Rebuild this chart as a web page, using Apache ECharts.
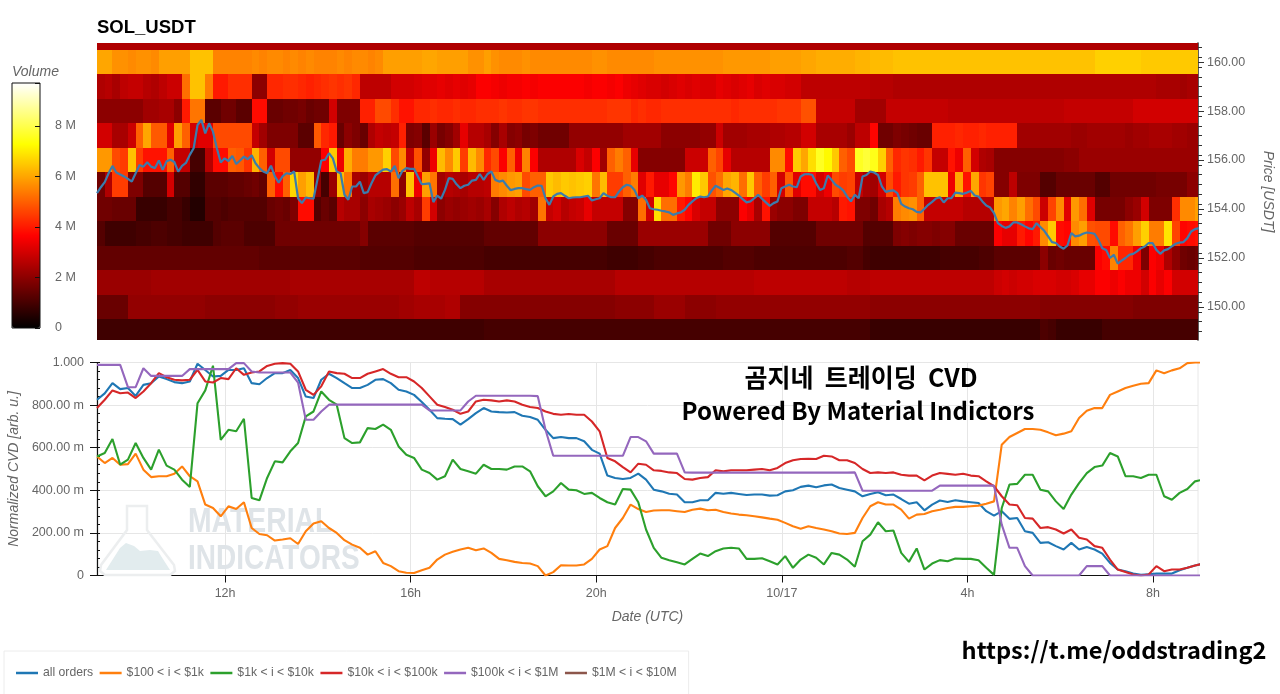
<!DOCTYPE html>
<html lang="en">
<head>
<meta charset="UTF-8">
<title>SOL_USDT</title>
<script src="https://cdn.jsdelivr.net/npm/echarts@6/dist/echarts.min.js"></script>
<style>
    *{margin:0;padding:0}
    body,html{width:100%;height:100%;overflow:hidden;background:#fff}
    .box{width:1280px;height:694px}
</style>
</head>
<body>
<div class="box"></div>
<script>
// time axis, hours since 10/16 00:00, one heatmap column = 10 min
const startHour = 9.24;
const endHour = 32.97;
const colHours = 1 / 6;
const timeTicks = [12, 16, 20, 24, 28, 32];

// price ticks
const priceMin = 148.65;
const priceMax = 160.78;
const priceTicks = [150, 152, 154, 156, 158, 160];
const priceMinorTicks = [149, 149.4, 149.8, 150.2, 150.6, 151, 151.4, 151.8, 152.2, 152.6, 153, 153.4, 153.8, 154.2, 154.6, 155, 155.4, 155.8, 156.2, 156.6, 157, 157.4, 157.8, 158.2, 158.6, 159, 159.4, 159.8, 160.2, 160.6];

// volume per price bin, unit 0.1 M, one list per bin
const binPrices = [161, 160, 159, 158, 157, 156, 155, 154, 153, 152, 151, 150, 149];
const vol161 = [25,25,25,25,25,25,25,25,25,25,25,25,25,25,25,25,25,25,25,25,25,25,25,25,25,25,25,25,25,25,25,25,25,25,25,25,25,25,25,25,25,25,25,25,25,25,25,25,25,25,
    25,25,25,25,25,25,25,25,25,25,25,25,25,25,25,25,25,25,25,25,25,25,25,25,25,25,25,25,25,25,25,25,25,25,25,25,25,25,25,25,25,25,25,25,25,25,25,25,25,25,
    25,25,25,25,25,25,25,25,25,25,25,25,25,25,25,25,25,25,25,25,25,25,25,25,25,25,25,25,25,25,25,25,25,25,25,25,25,25,25,25,25,25,25];
const vol160 = [60,60,57,57,56,57,57,56,59,59, 59,59,64,64,64,55,55,55,55,55, 56,55,56,56,55,56,55,56,55,55, 55,56,55,56,56,55,56,59,59,59, 59,59,60,60,59,59,59,59,57,57,
    59,57,56,56,56,57,56,56,56,56, 56,56,56,56,57,57,56,56,56,56, 56,56,57,57,57,57,57,57,57,57, 57,58,58,58,58,58,58,59,59,59, 59,60,60,61,61,61,61,61,62,62,
    63,63,63,64,64,64,64,64,64,64, 64,64,64,64,64,64,64,64,64,64, 64,64,64,64,64,64,64,64,64,66, 66,66,66,66,66,65,65,65,65,65,65,65,65];
const vol159 = [25,26,24,27,28,28,26,25,27,29, 29,52,64,64,54,40,40,43,43,43, 20,20,42,42,43,43,42,41,42,43, 44,43,44,42,27,27,27,27,30,30, 30,31,32,32,33,32,33,32,33,36,
    36,35,34,35,35,36,35,36,36,36, 36,36,36,35,36,36,35,36,34,33, 32,31,31,30,31,32,31,32,31,31, 33,32,31,32,33,31,32,31,31,30, 30,27,27,27,27,27,27,27,27,27,
    26,26,26,25,25,25,25,25,25,25, 25,25,25,25,25,25,25,25,25,25, 25,25,25,25,25,25,25,25,25,25, 25,25,25,25,25,25,25,24,24,24,23,24,24];
const vol158 = [20,20,20,20,20,20,23,23,24,24, 20,40,53,53,13,13,16,16,13,13, 38,38,15,15,16,16,17,15,16,16, 30,18,18,18,41,41,47,47,43,39, 39,42,42,43,42,42,43,42,42,43,
    43,43,44,43,43,44,44,43,43,43, 43,43,43,43,43,43,44,44,44,42, 43,42,42,43,43,43,43,43,43,43, 43,43,42,43,43,43,43,43,44,44, 44,48,48,28,28,28,28,28,23,23,
    23,23,28,28,28,28,28,28,28,28, 27,27,27,27,27,27,27,27,27,27, 27,27,27,27,27,28,28,28,28,28, 28,28,28,28,30,30,30,30,30,30,30,30,30];
const vol157 = [30,30,24,24,29,50,60,49,49,32, 59,50,30,32,32,47,47,47,47,47, 28,23,18,18,18,18,13,13,49,42, 40,15,20,18,15,25,28,27,28,41, 18,19,13,22,17,19,23,33,26,26,
    24,19,24,19,20,17,18,16,16,16, 16,21,21,21,21,21,21,21,23,23, 23,23,23,20,20,20,20,20,21,21, 29,23,23,23,24,24,24,25,25,26, 26,30,30,24,24,24,24,22,27,27,
    37,16,16,18,17,16,15,15,41,41, 41,42,41,41,42,41,41,41,41,23, 23,23,23,23,23,23,22,22,23,23, 23,23,23,22,23,23,24,24,24,23,23,22,22];
const vol156 = [58,58,47,45,64,45,39,39,39,50, 28,28,10,10,26,38,38,50,49,44, 62,50,30,47,47,21,21,21,21,36, 65,34,61,54,54,58,58,66,47,56, 28,48,21,34,63,56,65,45,63,56,
    42,47,36,50,34,55,36,25,25,25, 25,25,31,28,36,23,50,54,50,33, 19,19,19,19,19,19,29,29,29,50, 46,33,26,26,26,26,26,56,56,38, 65,60,68,76,72,65,50,47,76,78,
    75,66,50,42,44,43,40,44,28,28, 39,34,50,30,25,24,19,19,19,19, 19,19,19,19,19,20,20,22,22,22, 22,22,22,22,22,22,22,22,22,22,22,22,22];
const vol155 = [16,25,45,45,18,18,12,12,12,30, 12,12,7,7,13,13,13,14,14,15, 16,14,50,38,50,67,59,63,21,10, 22,63,53,24,22,26,26,26,52,20, 64,34,59,53,23,26,25,24,26,26,
    27,54,56,58,59,47,50,50,65,63, 65,64,65,66,53,63,45,45,50,54, 32,40,33,33,37,58,54,70,65,48, 52,60,62,52,65,50,45,50,30,49, 32,38,38,30,34,47,45,46,28,24,
    23,30,47,40,44,45,50,64,64,64, 34,60,39,60,44,46,19,19,27,18, 18,18,12,12,15,15,15,15,15,12, 12,16,16,16,16,16,16,17,17,17,17,20,20];
const vol154 = [16,16,15,15,15,8,8,8,8,10, 10,8,5,5,12,12,11,12,12,12, 12,12,15,16,15,18,38,38,12,15, 13,26,24,24,20,24,23,22,20,22, 27,24,45,30,20,22,21,22,23,22,
    24,19,25,27,25,26,23,53,28,30, 26,28,29,33,28,28,28,28,19,19, 52,30,68,52,52,40,37,31,28,28, 20,20,20,36,33,24,39,22,20,20, 18,18,28,28,28,26,40,39,18,18,
    16,24,26,54,56,57,50,28,28,28, 28,28,26,26,26,26,58,60,55,59, 52,47,29,46,56,32,58,52,32,17, 17,17,17,20,22,30,18,18,18,43,56,56,59];
const vol153 = [12,9,9,9,9,10,10,11,11,10, 10,9,9,9,9,12,13,13,13,11, 11,11,11,16,16,16,16,16,16,16, 16,16,16,16,19,13,13,13,13,13, 13,12,12,12,12,12,12,12,12,12,
    14,14,14,14,14,14,14,20,20,20, 20,20,20,20,20,20,15,15,15,15, 22,22,22,22,22,22,22,22,22,16, 16,16,20,20,20,20,20,12,12,12, 12,12,12,16,16,16,16,16,16,12,
    12,12,12,18,19,18,19,19,18,19, 19,15,15,15,15,15,36,33,33,40, 37,40,56,65,38,37,56,59,48,47, 47,38,50,53,59,66,54,54,69,46,37,38,39];
const vol152 = [14,14,14,14,14,14,14,14,14,14, 14,14,14,14,14,14,14,14,14,14, 14,13,13,13,13,13,13,13,13,13, 13,13,13,13,12,12,12,12,12,12, 12,11,11,11,11,11,11,11,11,11,
    10,10,10,10,10,10,10,10,10,10, 10,10,10,10,10,10,9,9,9,9, 10,10,11,11,11,11,11,11,11,11, 11,12,12,12,12,11,11,11,11,11, 11,11,11,11,11,11,11,12,12,10,
    9,9,9,9,9,9,9,9,9,10, 10,10,10,10,11,11,13,13,13,13, 13,13,20,15,16,15,15,15,15,36, 38,55,42,42,34,18,36,34,25,20,16,15,16];
const vol151 = [22,22,22,22,22,22,22,23,23,23, 23,23,23,23,23,23,23,23,23,23, 23,23,23,23,23,24,24,24,24,24, 24,24,24,24,24,24,24,24,24,24, 24,27,27,26,26,26,26,26,26,26,
    24,24,24,24,24,24,24,24,24,24, 24,24,24,24,24,24,24,26,26,26, 26,26,26,26,26,26,26,26,26,26, 26,26,26,26,26,27,27,27,27,27, 27,27,27,27,27,27,27,26,26,26,
    27,27,27,27,27,27,27,27,27,27, 27,27,27,27,27,27,29,30,29,30, 30,31,31,31,30,30,31,33,33,36, 36,34,36,34,34,30,36,33,36,30,30,30,30];
const vol150 = [15,15,15,15,21,21,21,21,21,21, 21,21,21,21,20,20,20,20,20,20, 20,20,20,21,21,21,22,22,22,22, 22,22,22,22,22,22,22,22,22,23, 23,24,24,24,24,25,25,19,19,19,
    19,19,19,19,19,19,19,19,19,19, 19,19,19,19,19,19,19,20,20,20, 20,20,22,22,22,22,20,20,20,20, 21,21,21,21,21,21,21,21,21,21, 21,21,21,21,21,21,21,21,21,21,
    20,20,20,20,20,20,20,20,20,20, 20,20,20,20,20,20,20,20,20,20, 20,20,19,19,19,19,19,19,19,19, 19,19,19,19,18,18,18,18,18,18,18,18,18];
const vol149 = [9,9,9,9,9,9,9,9,9,9, 9,9,9,9,9,9,9,9,9,9, 9,9,9,9,9,9,9,9,9,9, 9,9,9,9,9,9,9,9,9,9, 9,9,9,9,9,9,9,9,9,9,
    10,10,10,10,10,10,10,10,10,10, 10,10,10,10,10,10,10,10,10,10, 10,10,10,10,10,10,10,10,10,10, 10,10,10,10,10,10,10,10,10,10, 10,10,10,10,10,10,10,10,10,10,
    8,8,8,8,8,8,8,8,8,8, 8,8,8,8,8,8,8,8,8,8, 8,8,11,10,8,8,8,8,8,8, 10,10,10,10,10,10,10,10,10,10,10,10,10];
const volRows = [vol161, vol160, vol159, vol158, vol157, vol156, vol155, vol154, vol153, vol152, vol151, vol150, vol149];

// traded price, one value per 5 min
const priceLine = [154.65,154.89,155.10,155.46,155.76,155.49,155.41,155.33,155.23,155.12,155.46,155.80,155.73,155.91,155.73,155.67,155.98,155.60,155.95,156.01,
    155.92,155.53,155.76,155.88,156.21,156.48,157.43,157.64,157.09,157.50,157.16,156.48,155.90,156.07,155.96,156.17,155.84,155.98,156.14,156.03,
    156.20,155.87,155.67,155.53,155.46,155.77,155.33,155.08,155.33,155.46,155.43,155.53,154.44,154.24,154.47,154.44,154.42,155.19,155.98,156.01,
    156.28,156.07,155.53,155.46,154.58,154.38,154.92,154.92,155.12,154.65,154.69,155.05,155.37,155.50,155.61,155.63,155.53,155.76,155.26,155.56,
    155.67,155.64,155.64,155.33,155.01,155.03,155.05,154.28,154.55,154.42,154.78,155.26,155.23,155.01,154.85,154.95,154.99,155.16,155.19,155.43,
    155.19,155.43,155.53,155.19,155.12,155.16,154.95,154.77,154.82,154.85,154.85,154.81,154.78,154.89,154.96,154.95,154.44,154.17,154.51,154.62,
    154.65,154.54,154.44,154.47,154.48,154.48,154.51,154.54,154.35,154.40,154.44,154.65,154.54,154.48,154.48,154.71,154.89,154.99,154.95,154.78,
    154.44,154.55,154.38,154.03,153.99,153.97,153.93,153.90,153.86,153.76,153.82,153.86,153.97,154.17,154.31,154.44,154.51,154.48,154.51,154.76,
    154.95,154.87,154.78,154.84,154.78,154.67,154.55,154.40,154.27,154.31,154.44,154.58,154.42,154.27,154.13,154.24,154.31,154.85,154.92,154.99,
    154.92,154.89,155.33,155.42,155.43,155.39,155.05,154.78,154.85,155.37,155.19,154.99,154.89,154.76,154.51,154.31,154.58,154.44,155.33,155.39,
    155.53,155.49,155.39,154.92,154.70,154.74,154.76,154.65,154.21,154.10,154.03,153.99,153.88,153.86,154.01,154.17,154.29,154.43,154.48,154.27,
    154.44,154.44,154.67,154.65,154.62,154.67,154.74,154.55,154.51,154.31,154.14,154.06,153.83,153.42,153.31,153.23,153.29,153.45,153.45,153.38,
    153.29,153.21,153.18,153.42,153.26,153.11,152.88,152.65,152.61,152.47,152.38,152.51,153.02,152.88,152.91,152.99,153.04,153.02,152.99,152.74,
    152.40,152.33,152.00,152.13,151.77,151.89,152.00,152.13,152.17,152.27,152.40,152.47,152.61,152.61,152.33,152.17,152.31,152.36,152.47,152.58,
    152.63,152.65,152.81,153.08,153.18,153.22];

// normalized CVD in milli units, one value per 10 min
const cvdAll = [825,855,903,875,880,843,895,903,934,922, 908,903,911,994,965,934,937,965,965,973, 903,898,927,950,950,965,927,840,833,919, 947,927,903,880,880,895,919,922,903,872,
    864,848,815,778,739,736,734,708,734,762, 786,770,767,765,767,750,744,731,684,645, 650,645,645,630,590,572,469,458,453,458, 478,450,403,395,384,380,344,344,353,353,
    388,384,388,383,378,380,380,375,377,395, 400,416,422,414,423,427,411,403,395,372, 383,391,377,380,359,337,344,306,333,352, 345,353,348,344,340,302,281,302,266,270,
    208,200,153,156,138,122,153,122,134,122, 103,59,28,20,9,3,6,9,9,9, 25,36,47,55];
const cvd100 = [559,528,552,520,523,572,497,462,466,466, 478,512,466,442,333,317,278,325,312,344, 223,195,189,164,169,175,148,208,244,255, 223,200,166,145,130,98,114,59,44,20,
    13,12,25,36,75,98,111,122,130,119, 127,106,78,72,64,59,56,44,0,16, 48,47,47,52,78,122,138,223,270,333, 312,298,305,306,306,302,298,309,314,306,
    309,298,291,286,283,278,273,267,262,247, 231,220,231,223,216,208,197,195,200,270, 325,344,333,333,309,267,286,289,302,309, 317,322,322,325,328,337,348,614,650,669,
    688,688,684,672,658,666,677,739,773,786, 786,848,864,880,891,900,903,963,950,963, 973,997,1000,1000];
const cvd1k = [559,575,641,520,544,622,552,497,591,516, 497,450,416,809,869,985,637,684,677,736, 364,353,458,536,531,583,622,747,770,864, 825,802,645,622,625,692,688,708,684,606,
    567,552,497,481,450,466,544,500,489,478, 520,500,500,497,512,512,489,419,372,395, 434,403,400,383,388,364,344,333,406,403, 344,216,130,83,72,62,52,78,103,91,
    114,127,130,127,78,78,81,67,52,91, 36,75,98,83,52,106,98,75,41,161, 192,250,208,211,106,64,127,28,56,72, 67,80,78,78,72,36,3,317,427,430,
    473,473,403,395,348,312,380,434,481,509, 516,575,559,466,466,458,473,473,372,356, 388,406,442,450];
const cvd10k = [786,825,869,856,859,833,864,903,950,931, 919,916,919,965,911,906,927,922,973,942, 953,958,984,994,997,994,958,872,848,888, 958,950,947,927,927,947,958,969,947,931,
    931,911,880,841,802,791,778,759,770,817, 825,822,817,822,817,802,791,786,770,759, 755,758,755,755,723,677,552,536,509,484, 525,520,494,491,484,481,453,450,458,462,
    494,489,494,494,494,497,500,494,505,528, 541,547,548,547,562,559,541,541,528,500, 481,484,481,484,473,469,469,447,469,481, 477,473,478,469,466,442,419,372,333,330,
    270,267,223,227,216,197,216,177,169,138, 130,75,28,16,5,0,5,44,20,28, 28,36,47,55];
const cvd100k = [989,989,989,989,884,884,973,937,937,937, 937,937,969,969,969,969,969,969,997,997, 958,953,953,953,953,953,906,731,731,770, 802,802,802,802,802,802,802,802,802,802,
    802,802,802,775,775,775,775,775,817,844, 844,844,844,844,844,844,844,842,684,562, 562,562,562,562,562,562,562,562,562,650, 650,630,572,572,572,572,484,483,483,483,
    483,483,483,483,483,483,483,483,483,483, 483,483,483,483,483,483,483,483,484,398, 398,398,398,398,398,398,398,398,398,422, 422,422,422,422,422,422,422,239,130,130,
    44,0,0,0,0,0,0,0,44,44, 44,0,0,0,0,0,0,0,0,0, 0,0,0,0];
const cvd1M = [];

const cvdNames = ['all orders', '$100 < i < $1k', '$1k < i < $10k', '$10k < i < $100k', '$100k < i < $1M', '$1M < i < $10M'];
const cvdColors = ['#1f77b4', '#ff7f0e', '#2ca02c', '#d62728', '#9467bd', '#8c564b'];
const cvdValues = [cvdAll, cvd100, cvd1k, cvd10k, cvd100k, cvd1M];

// hot colour ramp of the volume bar
const volumeMax = 9.7;
const hotColors = ['#000000', '#550000', '#aa0000', '#ff0000', '#ff5500', '#ffaa00', '#ffff00', '#ffff80', '#ffffff'];

const axisFont = 'Liberation Sans';
const textGrey = '#666';

let heatData = [];
binPrices.forEach((price, r) => {
    volRows[r].forEach((v, c) => {
        heatData.push([startHour + c * colHours, price, v / 10]);
    });
});

function renderCell(params, api) {
    let t = api.value(0);
    let p = api.value(1);
    let a = api.coord([t, p + 0.5]);
    let b = api.coord([t + colHours, p - 0.5]);
    // whole pixels, otherwise the cell edges show as hairlines
    let x0 = Math.round(a[0]);
    let y0 = Math.round(a[1]);
    return {
        type: 'rect',
        shape: {x: x0, y: y0, width: Math.round(b[0]) - x0, height: Math.round(b[1]) - y0},
        style: {fill: api.visual('color')}
    };
}

function cvdLabel(v) {
    if (v === 0) return '0';
    if (v === 1000) return '1.000';
    return v.toFixed(2) + ' m';
}

let series = [{
    type: 'custom',
    name: 'volume',
    xAxisIndex: 0,
    yAxisIndex: 0,
    renderItem: renderCell,
    encode: {x: 0, y: 1},
    clip: true,
    data: heatData,
    silent: true
}, {
    type: 'line',
    name: 'price',
    xAxisIndex: 0,
    yAxisIndex: 0,
    symbol: 'none',
    z: 5,
    lineStyle: {color: '#3b7cad', width: 2.2},
    data: priceLine.map((p, j) => [startHour + j * colHours / 2, p])
}];

cvdNames.forEach((name, k) => {
    series.push({
        type: 'line',
        name: name,
        xAxisIndex: 1,
        yAxisIndex: 2,
        symbol: 'none',
        clip: true,
        itemStyle: {color: cvdColors[k]},
        lineStyle: {color: cvdColors[k], width: 2.1},
        data: cvdValues[k].map((v, i) => [startHour + i * colHours, v])
    });
});

let option = {
    animation: false,
    backgroundColor: '#fff',
    textStyle: {fontFamily: axisFont},
    title: {
        text: 'SOL_USDT',
        left: 97,
        top: 18,
        padding: 0,
        textStyle: {fontSize: 18.5, fontWeight: 'bold', color: '#000', fontFamily: axisFont}
    },
    grid: [
        {left: 97, right: 82, top: 43, height: 297, outerBoundsMode: 'none'},
        {left: 97, right: 82, top: 362.5, height: 213, show: true, borderColor: '#e8e8e8', borderWidth: 1, outerBoundsMode: 'none'},
        {left: 12, top: 83, width: 28, height: 245, show: true, borderColor: '#111', borderWidth: 1, z: 6, outerBoundsMode: 'none'}
    ],
    xAxis: [
        {type: 'value', gridIndex: 0, min: startHour, max: endHour, show: false},
        {
            type: 'value', gridIndex: 1, min: startHour, max: endHour,
            name: 'Date (UTC)', nameLocation: 'middle', nameGap: 35,
            nameTextStyle: {fontStyle: 'italic', fontSize: 14, color: textGrey},
            axisLine: {lineStyle: {color: '#111', width: 1.2}},
            axisTick: {customValues: timeTicks, length: 7, lineStyle: {color: '#111'}},
            axisLabel: {
                customValues: timeTicks, margin: 12, fontSize: 12.5, color: textGrey,
                formatter: h => h === 24 ? '10/17' : (h % 24) + 'h'
            },
            splitLine: {show: true, lineStyle: {color: '#e6e6e6', width: 1}}
        },
        {type: 'value', gridIndex: 2, min: 0, max: 1, show: false}
    ],
    yAxis: [
        {
            type: 'value', gridIndex: 0, position: 'right', min: priceMin, max: priceMax,
            name: 'Price [USDT]', nameLocation: 'middle', nameGap: 63, nameRotate: -90,
            nameTextStyle: {fontStyle: 'italic', fontSize: 14, color: textGrey},
            axisLine: {show: true, lineStyle: {color: '#333', width: 1.6}},
            axisTick: {show: true, customValues: priceTicks, length: 6, lineStyle: {color: '#333'}},
            axisLabel: {customValues: priceTicks, margin: 9, fontSize: 12.5, color: textGrey, formatter: v => v.toFixed(2)},
            splitLine: {show: false}
        },
        {
            type: 'value', gridIndex: 0, position: 'right', min: priceMin, max: priceMax,
            axisLine: {show: false},
            axisTick: {show: true, customValues: priceMinorTicks, length: 4, lineStyle: {color: '#333'}},
            axisLabel: {show: false},
            splitLine: {show: false}
        },
        {
            type: 'value', gridIndex: 1, position: 'left', min: 0, max: 1000, interval: 200,
            name: 'Normalized CVD [arb. u.]', nameLocation: 'middle', nameGap: 74, nameRotate: 90,
            nameTextStyle: {fontStyle: 'italic', fontSize: 14, color: textGrey},
            axisLine: {show: true, lineStyle: {color: '#111', width: 1.2}},
            axisTick: {show: true, length: 7, lineStyle: {color: '#111'}},
            axisLabel: {margin: 13, fontSize: 12.5, color: textGrey, formatter: cvdLabel},
            splitLine: {show: true, lineStyle: {color: '#e6e6e6', width: 1}}
        },
        {
            type: 'value', gridIndex: 1, position: 'left', min: 0, max: 1000, interval: 200,
            axisLine: {show: false},
            axisTick: {show: true, inside: true, length: 3, lineStyle: {color: '#111'}},
            minorTick: {show: true, splitNumber: 5, length: 3, lineStyle: {color: '#111'}},
            axisLabel: {show: false},
            splitLine: {show: false}
        },
        // colour bar: labels on the right, ticks on a left axis shifted onto the right edge
        {
            type: 'value', gridIndex: 2, position: 'right', min: 0, max: volumeMax, interval: 2,
            axisLine: {show: false},
            axisTick: {show: false},
            axisLabel: {
                margin: 15, fontSize: 12.5, color: textGrey, showMaxLabel: false,
                formatter: v => v === 0 ? '0' : v + ' M'
            },
            splitLine: {show: false}
        },
        {
            type: 'value', gridIndex: 2, position: 'left', offset: -28, min: 0, max: volumeMax, interval: 2, z: 8,
            axisLine: {show: false},
            axisTick: {show: true, length: 5, lineStyle: {color: '#111'}},
            axisLabel: {show: false},
            splitLine: {show: false}
        }
    ],
    visualMap: {
        type: 'continuous',
        seriesIndex: 0,
        dimension: 2,
        min: 0,
        max: volumeMax,
        left: 12,
        top: 83,
        padding: 0,
        itemWidth: 28,
        itemHeight: 245,
        text: ['', ''],
        calculable: false,
        hoverLink: false,
        showLabel: false,
        z: 1,
        inRange: {color: hotColors}
    },
    legend: {
        left: 4,
        top: 651,
        padding: [16, 12, 16, 12],
        itemGap: 6.5,
        icon: 'rect',
        itemWidth: 22,
        itemHeight: 2.5,
        borderColor: '#ececec',
        borderWidth: 1,
        data: cvdNames,
        textStyle: {fontSize: 12.2, color: textGrey, fontFamily: axisFont}
    },
    graphic: [
        {type: 'text', x: 12, y: 65, style: {text: 'Volume', fontStyle: 'italic', fontSize: 14, fill: textGrey, fontFamily: axisFont}},
        // watermark
        {type: 'polygon', z: 1, shape: {points: [[127,506],[147,506],[147,530],[174,565],[175,571],[170,575],[105,575],[100,571],[101,565],[127,530]]}, style: {fill: 'none', stroke: '#eceeef', lineWidth: 2.5}},
        {type: 'polygon', z: 1, shape: {points: [[106,570],[120,548],[126,543],[134,546],[140,551],[150,550],[158,551],[161,556],[170,570]]}, style: {fill: '#e2ecee'}},
        {type: 'text', z: 1, x: 188, y: 505, scaleX: 0.81, style: {text: 'MATERIAL', fontWeight: 'bold', fontSize: 35, fill: '#dfe4e8', fontFamily: axisFont}},
        {type: 'text', z: 1, x: 188, y: 542, scaleX: 0.8, style: {text: 'INDICATORS', fontWeight: 'bold', fontSize: 35, fill: '#dfe4e8', fontFamily: axisFont}},
        // overlaid captions
        {type: 'text', z: 20, x: 861, y: 377, style: {text: '곰지네  트레이딩  CVD', fontWeight: 'bold', fontSize: 25, fill: '#000', align: 'center', verticalAlign: 'middle', fontFamily: 'Noto Sans CJK KR'}},
        {type: 'text', z: 20, x: 858, y: 411, style: {text: 'Powered By Material Indictors', fontWeight: 'bold', fontSize: 24, fill: '#000', align: 'center', verticalAlign: 'middle', fontFamily: 'Noto Sans CJK KR'}},
        {type: 'text', z: 20, x: 1114, y: 650, style: {text: 'https://t.me/oddstrading2', fontWeight: 'bold', fontSize: 23.6, fill: '#000', align: 'center', verticalAlign: 'middle', fontFamily: 'Noto Sans CJK KR'}}
    ],
    series: series
};

let myChart = echarts.init(document.querySelector('.box'), null, {renderer: 'canvas'});
myChart.setOption(option);
</script>
</body>
</html>
